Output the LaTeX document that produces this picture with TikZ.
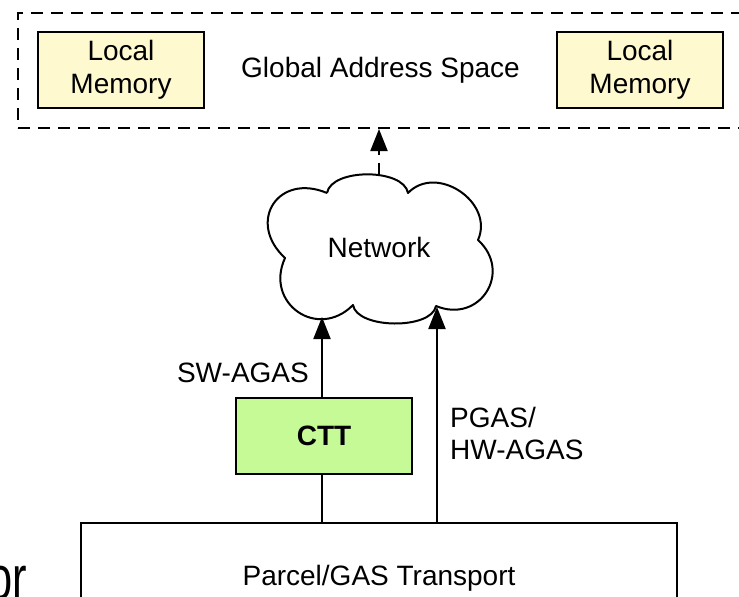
\documentclass[tikz,border=0pt]{standalone}
\usepackage{fontspec}
\usepackage{graphicx}
\setmainfont{Liberation Sans}
\usetikzlibrary{arrows.meta}
\definecolor{memfill}{RGB}{254,249,206}
\definecolor{cttfill}{RGB}{198,250,150}
\tikzset{
  stroke/.style={line width=2pt},
  dashpat/.style={dash pattern=on 12pt off 8pt},
  txt/.style={font=\fontsize{28}{33}\selectfont},
  box/.style={draw, stroke, inner sep=0pt, align=center, txt},
  membox/.style={box, fill=memfill, minimum width=166pt, minimum height=76pt},
  cttbox/.style={box, fill=cttfill, minimum width=176pt, minimum height=76pt, font=\fontsize{28}{33}\selectfont\bfseries},
  gasbox/.style={box, dashpat, minimum width=725pt, minimum height=115pt},
  lbl/.style={inner sep=0pt, align=left, font=\fontsize{28}{32}\selectfont},
  tip/.style={-{Triangle[length=22pt,width=17pt]}},
}
\begin{document}
\begin{tikzpicture}[x=1pt,y=-1pt]
\clip (0,0) rectangle (739,597);

% global address space with its two local memories
\node[gasbox] (gas) at (380.5,70.5) {Global Address Space};
\node[membox] (lm1) at (121,70) {Local\\Memory};
\node[membox] (lm2) at (640,70) {Local\\Memory};

% network cloud
\draw[stroke, line join=round]
  (327,193) to[bend left=80, looseness=0.8] (408,193)
            to[bend left=80, looseness=1.25] (478,240)
            to[bend left=80, looseness=1.55] (436,306)
            to[bend left=80, looseness=0.75] (353,305)
            to[bend left=80, looseness=1.55] (285,258)
            to[bend left=80, looseness=1.75] (327,193);
\node[txt, inner sep=0pt] (net) at (379,247) {Network};
\coordinate (netN) at (379,175);
\coordinate (netS1) at (322,317);
\coordinate (netS2) at (437,307);

% transport layer and the CTT block
\node[box, minimum width=596pt, minimum height=110pt] (parcel) at (379,578) {Parcel/GAS Transport};
\node[cttbox] (ctt) at (324,436) {CTT};

% connectors
\draw[stroke] (ctt.south -| netS1) -- (parcel.north -| netS1);
\draw[stroke, tip] (ctt.north -| netS1) -- (netS1);
\draw[stroke, tip] (parcel.north -| netS2) -- (netS2);
\draw[stroke, dashpat, tip] (netN) -- (gas.south -| netN);

% labels
\node[lbl, anchor=base east] (sw) at (309,382) {SW-AGAS};
\node[lbl, anchor=west] (hw) at (450,433) {PGAS/\\HW-AGAS};

% large word at the lower left
\node[inner sep=0pt, anchor=base east, font=\fontsize{62}{62}\selectfont] (orword) at (27,599) {\scalebox{0.7}[1]{or}};
\end{tikzpicture}
\end{document}
